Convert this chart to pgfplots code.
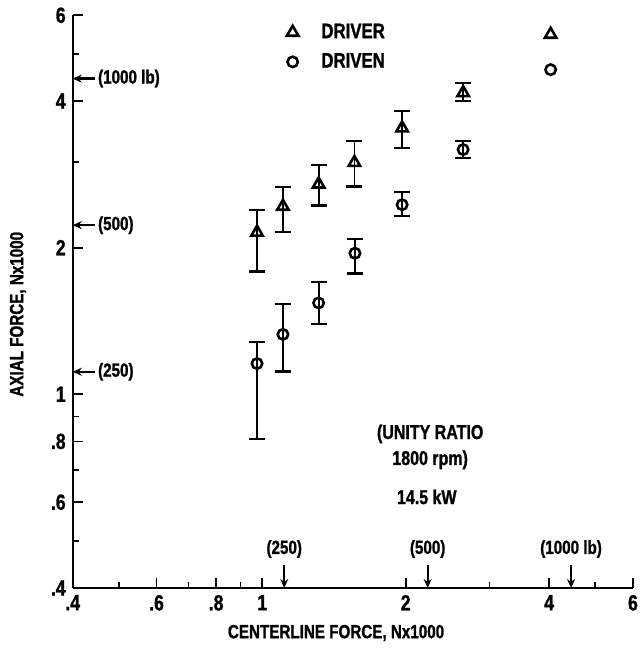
\documentclass[border=0pt]{standalone}
\usepackage{fontspec}
\setmainfont{Liberation Sans}[FakeStretch=0.8, BoldFont={Liberation Sans Bold}, BoldFeatures={FakeBold=1.2}]
\usepackage{pgfplots}
\usepackage{pgfplotstable}
\pgfplotsset{compat=1.18}
\usetikzlibrary{arrows.meta}

\pgfplotstableread{
x      y     ep    em
0.975  2.15  0.24  0.364
1.105  2.43  0.23  0.275
1.313  2.70  0.26  0.26
1.561  2.99  0.32  0.32
1.966  3.52  0.29  0.32
2.64   4.16  0.20  0.16
}\driver
\pgfplotstableread{
x      y     ep    em
0.975  1.156 0.124 0.346
1.105  1.327 0.207 0.214
1.313  1.54  0.16  0.147
1.565  1.948 0.132 0.178
1.966  2.45  0.15  0.13
2.64   3.18  0.13  0.12
}\driven

\tikzset{
  yarr/.style={line width=1.1pt, -{Stealth[length=4.5pt,width=4pt]}},
  sfont/.style={inner sep=0pt, font=\bfseries\fontsize{9.5}{11}\selectfont},
}

\begin{document}
\begin{tikzpicture}
\begin{axis}[
  scale only axis, width=280.15pt, height=286.35pt,
  xmode=log, ymode=log,
  xmin=0.4, xmax=6, ymin=0.4, ymax=6,
  axis x line*=bottom, axis y line*=left,
  axis line style={line width=1pt},
  xtick={0.4,0.6,0.8,1,2,4,6}, xticklabels={.4,.6,.8,1,2,4,6},
  ytick={0.4,0.6,0.8,1,2,4,6}, yticklabels={.4,.6,.8,1,2,4,6},
  minor xtick={0.5,0.7,0.9,3,5}, minor ytick={0.5,0.7,0.9,3,5},
  tick align=inside, major tick length=5pt, minor tick length=3pt,
  tick style={line width=0.9pt, black},
  ticklabel style={font=\bfseries\fontsize{11}{12}\selectfont},
  xlabel={CENTERLINE FORCE, Nx1000},
  ylabel={AXIAL FORCE, Nx1000},
  label style={font=\bfseries\fontsize{9.5}{11}\selectfont},
  xlabel style={at={(axis description cs:0.47,-0.0786)}, anchor=center},
  ylabel style={at={(axis description cs:-0.0976,0.478)}, anchor=center},
  clip=false,
  legend style={at={(rel axis cs:0.371,1.0)}, anchor=north west, draw=none, fill=none,
    font=\bfseries\fontsize{10.5}{12}\selectfont, row sep=2pt, column sep=9.5pt},
  legend cell align=left,
]
\coordinate (ll) at (rel axis cs:0,0);
\coordinate (ur) at (rel axis cs:1,1);

\addlegendimage{only marks, mark=triangle, mark size=3.3pt, mark options={line width=1.3pt}}
\addlegendentry{DRIVER}
\addlegendimage{only marks, mark=o, mark size=2.6pt, mark options={line width=1.3pt}}
\addlegendentry{DRIVEN}

\addplot[forget plot, only marks, mark=triangle, mark size=3.3pt,
  mark options={line width=1.3pt, fill=white},
  error bars/.cd, y dir=both, y explicit,
  error bar style={line width=0.9pt},
  error mark options={rotate=90, mark size=4pt, line width=1.1pt}]
  table[x=x, y=y, y error plus=ep, y error minus=em] {\driver};
\addplot[forget plot, only marks, mark=o, mark size=2.6pt,
  mark options={line width=1.3pt, fill=white},
  error bars/.cd, y dir=both, y explicit,
  error bar style={line width=0.9pt},
  error mark options={rotate=90, mark size=4pt, line width=1.1pt}]
  table[x=x, y=y, y error plus=ep, y error minus=em] {\driven};
\addplot[forget plot, only marks, mark=triangle, mark size=3.3pt,
  mark options={line width=1.3pt, fill=white}] coordinates {(4.03,5.48)};
\addplot[forget plot, only marks, mark=o, mark size=2.6pt,
  mark options={line width=1.3pt, fill=white}] coordinates {(4.03,4.64)};

% secondary (lb) arrows on the y axis
\draw[yarr] ([xshift=11pt]axis cs:0.4,4.448) -- (axis cs:0.4,4.448);
\node[sfont, anchor=west] at ([xshift=12.5pt]axis cs:0.4,4.448) {(1000 lb)};
\draw[yarr] ([xshift=11pt]axis cs:0.4,2.224) -- (axis cs:0.4,2.224);
\node[sfont, anchor=west] at ([xshift=12.5pt]axis cs:0.4,2.224) {(500)};
\draw[yarr] ([xshift=11pt]axis cs:0.4,1.112) -- (axis cs:0.4,1.112);
\node[sfont, anchor=west] at ([xshift=12.5pt]axis cs:0.4,1.112) {(250)};
% secondary (lb) arrows on the x axis
\draw[yarr] ([yshift=11.5pt]axis cs:1.112,0.4) -- (axis cs:1.112,0.4);
\node[sfont] at ([yshift=19.5pt]axis cs:1.112,0.4) {(250)};
\draw[yarr] ([yshift=11.5pt]axis cs:2.224,0.4) -- (axis cs:2.224,0.4);
\node[sfont] at ([yshift=19.5pt]axis cs:2.224,0.4) {(500)};
\draw[yarr] ([yshift=11.5pt]axis cs:4.448,0.4) -- (axis cs:4.448,0.4);
\node[sfont] at ([yshift=19.5pt]axis cs:4.448,0.4) {(1000 lb)};

\node[align=center, font=\bfseries\fontsize{10}{13}\selectfont] at (rel axis cs:0.638,0.2465) {(UNITY RATIO\\1800 rpm)};
\node[font=\bfseries\fontsize{10}{12}\selectfont] at (rel axis cs:0.632,0.159) {14.5 kW};
\end{axis}
\pgfresetboundingbox
\useasboundingbox ([shift={(-36.35pt,-31pt)}]ll) rectangle ([shift={(4pt,7.65pt)}]ur);
\end{tikzpicture}
\end{document}
